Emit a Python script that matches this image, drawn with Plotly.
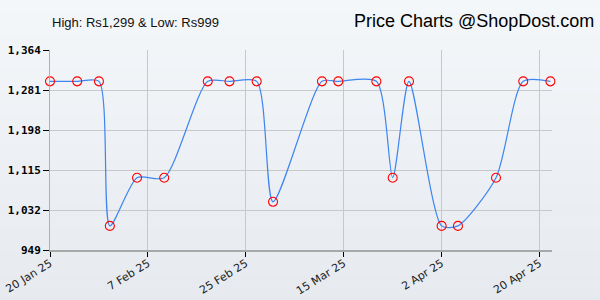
import plotly.graph_objects as go

dates = ["2025-01-20", "2025-01-25", "2025-01-29", "2025-01-31", "2025-02-05",
         "2025-02-10", "2025-02-18", "2025-02-22", "2025-02-27", "2025-03-02",
         "2025-03-11", "2025-03-14", "2025-03-21", "2025-03-24", "2025-03-27",
         "2025-04-02", "2025-04-05", "2025-04-12", "2025-04-17", "2025-04-22"]
prices = [1299, 1299, 1299, 999, 1099, 1099, 1299, 1299, 1299, 1049,
          1299, 1299, 1299, 1099, 1299, 999, 999, 1099, 1299, 1299]

x_tickvals = ["2025-01-20", "2025-02-07", "2025-02-25", "2025-03-15", "2025-04-02", "2025-04-20"]
x_ticktext = ["20 Jan 25", "7 Feb 25", "25 Feb 25", "15 Mar 25", "2 Apr 25", "20 Apr 25"]
y_tickvals = [949, 1032, 1115, 1198, 1281, 1364]
y_ticktext = ["949", "1,032", "1,115", "1,198", "1,281", "1,364"]

fig = go.Figure()
fig.add_trace(go.Scatter(
    x=dates, y=prices, mode="lines+markers",
    line=dict(color="#3d85f0", width=1.2, shape="spline", smoothing=0.7),
    marker=dict(symbol="circle-open", size=9, color="#ff0000", line=dict(width=1.1, color="#ff0000")),
    hoverinfo="skip", showlegend=False, cliponaxis=False,
))

# background gradient (styling)
shapes = []
n = 30
top = (244, 247, 250)
bot = (229, 233, 238)
for i in range(n):
    t = i / (n - 1)
    c = tuple(round(top[k] + (bot[k] - top[k]) * t) for k in range(3))
    shapes.append(dict(type="rect", xref="paper", yref="paper", layer="below",
                       x0=-0.2, x1=1.2, y0=1.3 - (i + 1) * 1.7 / n, y1=1.3 - i * 1.7 / n,
                       fillcolor="rgb(%d,%d,%d)" % c, line=dict(width=0)))

fig.update_layout(
    width=600, height=300,
    margin=dict(l=50, r=48, t=50, b=50),
    paper_bgcolor="#eef1f5",
    plot_bgcolor="rgba(0,0,0,0)",
    shapes=shapes,
    annotations=[
        dict(text="High: Rs1,299 &amp; Low: Rs999", xref="paper", yref="paper",
             x=0.0, y=1.0, xshift=0, yshift=37, xanchor="left", yanchor="top", showarrow=False,
             font=dict(family="Liberation Sans, Arial", size=13, color="#111111")),
        dict(text="Price Charts @ShopDost.com", xref="paper", yref="paper",
             x=1.0, y=1.0, xshift=44, yshift=41, xanchor="right", yanchor="top", showarrow=False,
             font=dict(family="Liberation Sans, Arial", size=18, color="#000000")),
    ],
    xaxis=dict(
        type="date", range=["2025-01-20", "2025-04-22 07:00"], automargin=False,
        tickvals=x_tickvals, ticktext=x_ticktext, tickangle=-32,
        ticklabeloverflow="allow", ticklabelstandoff=-4,
        showgrid=True, gridcolor="#c8c8c8", gridwidth=1,
        showline=True, linecolor="#a8a8a8", linewidth=2,
        ticks="outside", ticklen=5, tickcolor="#000000",
        tickfont=dict(family="DejaVu Sans", size=11, color="#222222"),
        zeroline=False,
    ),
    yaxis=dict(
        range=[949, 1364], tickvals=y_tickvals, ticktext=y_ticktext, automargin=False,
        showgrid=True, gridcolor="#c8c8c8", gridwidth=1,
        showline=True, linecolor="#b0b0b0", linewidth=1,
        ticks="outside", ticklen=6, tickcolor="#000000",
        tickfont=dict(family="DejaVu Sans Mono", size=11, color="#000000", weight="bold"),
        zeroline=False,
    ),
)

fig.write_html("out.html")
